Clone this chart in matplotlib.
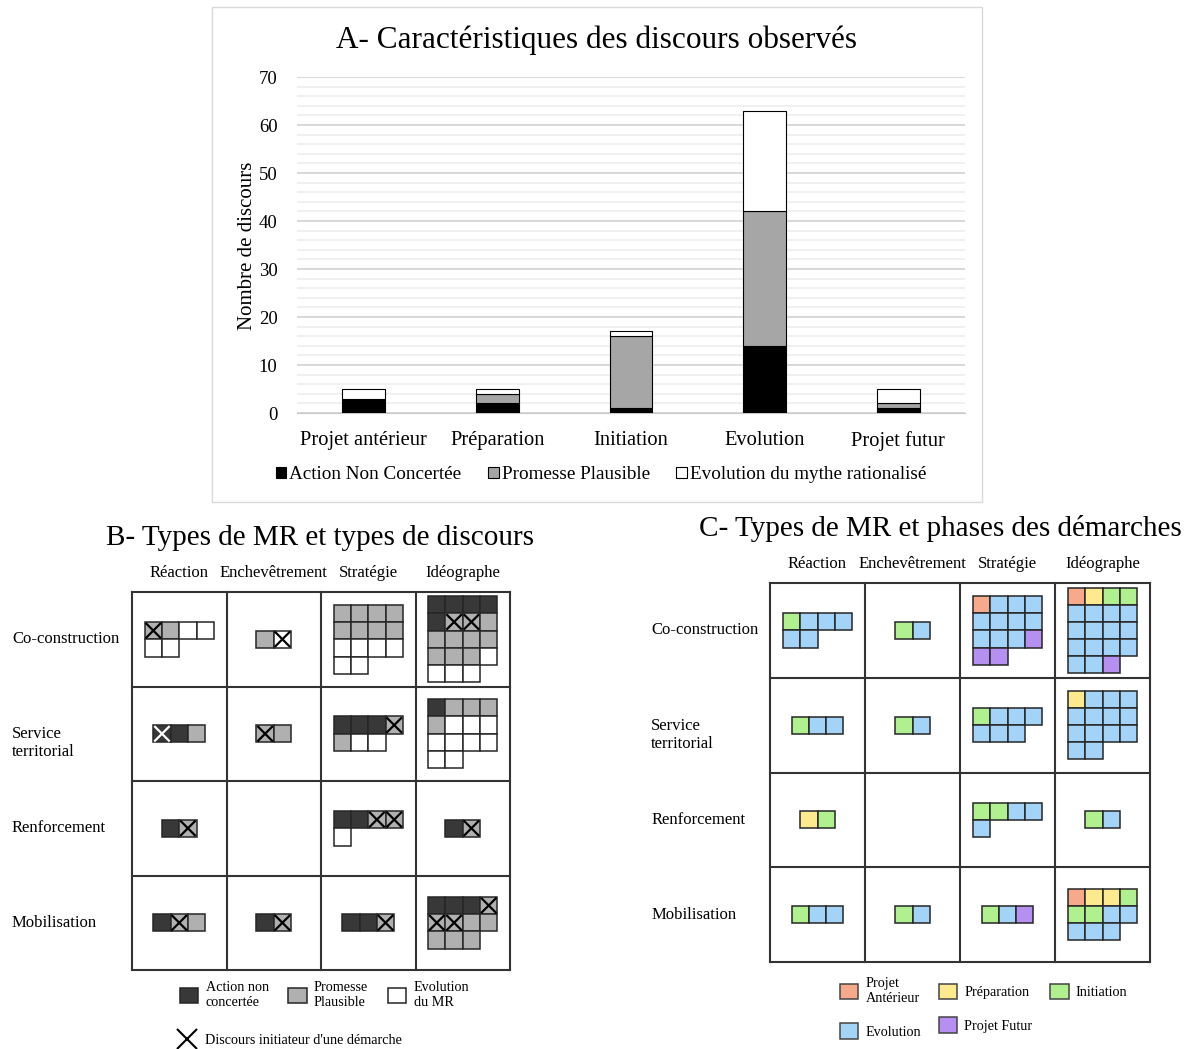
import numpy as np
import matplotlib.pyplot as plt
from matplotlib.patches import Rectangle, Patch
from matplotlib.lines import Line2D

plt.rcParams['font.family'] = ['Liberation Serif', 'DejaVu Serif']

# ---- data, panel A
phases = ["Projet antérieur", "Préparation", "Initiation", "Evolution", "Projet futur"]
action_nc = [3, 2, 1, 14, 1]
promesse = [0, 2, 15, 28, 1]
evolution_mr = [2, 1, 1, 21, 3]

# ---- data, panels B and C (one string per cell, squares filled row by row)
mr_types = ["Co-construction", "Service\nterritorial", "Renforcement", "Mobilisation"]
strategies = ["Réaction", "Enchevêtrement", "Stratégie", "Idéographe"]

# D = action non concertée, G = promesse plausible, W = evolution du MR, x = initiateur
discours_coconstruction = ["Gx G W W W W", "G Wx", "G G G G G G G G W W W W W W",
                           "D D D D D Gx Gx G G G G G G G G W W W W"]
discours_service = ["Dx D G", "Gx G", "D D D Gx G W W", "D G G G G W W W W W W W W W"]
discours_renforcement = ["D Gx", "", "D D Gx Gx W", "D Gx"]
discours_mobilisation = ["D Gx G", "D Gx", "D D Gx", "D D D Gx Gx Gx G G G G G"]

# A = projet antérieur, P = préparation, I = initiation, E = evolution, F = projet futur
phases_coconstruction = ["I E E E E E", "I E", "A E E E E E E E E E E F F F",
                         "A P I I E E E E E E E E E E E E E E F"]
phases_service = ["I E E", "I E", "I E E E E E E", "P E E E E E E E E E E E E E"]
phases_renforcement = ["P I", "", "I I E E E", "I E"]
phases_mobilisation = ["I E E", "I E", "I E F", "A P P I I I E E E E E"]

W, H = 1190, 1049
fig = plt.figure(figsize=(11.9, 10.49), dpi=100)


def box(l, t, r, b):
    return [l / W, 1 - b / H, (r - l) / W, (b - t) / H]


# ================= Panel A
fig.add_artist(Rectangle((212 / W, 1 - 502 / H), 770 / W, 495 / H, transform=fig.transFigure,
                         fill=False, edgecolor='#d9d9d9', lw=1))
ax = fig.add_axes(box(297, 77, 965, 413))
x = np.arange(len(phases))
bw = 0.32
ax.bar(x, action_nc, bw, color='black', edgecolor='black', lw=0.8, zorder=3,
       label='Action Non Concertée')
ax.bar(x, promesse, bw, bottom=action_nc, color='#a6a6a6', edgecolor='black', lw=0.8, zorder=3,
       label='Promesse Plausible')
ax.bar(x, evolution_mr, bw, bottom=np.add(action_nc, promesse), color='white', edgecolor='black',
       lw=0.8, zorder=3, label='Evolution du mythe rationalisé')
ax.set_xlim(-0.5, 4.5)
ax.set_ylim(0, 70)
ax.set_xticks(x)
ax.set_xticklabels(phases, fontsize=14.8)
ax.set_yticks(range(0, 71, 10))
ax.set_yticks(range(0, 71, 2), minor=True)
ax.grid(axis='y', which='major', color='#d6d6d6', lw=1.3)
ax.grid(axis='y', which='minor', color='#ececec', lw=1.1)
for s in ['top', 'right', 'left']:
    ax.spines[s].set_visible(False)
ax.spines['bottom'].set_color('#c8c8c8')
ax.tick_params(axis='y', which='both', length=0, labelsize=13.5, pad=14)
ax.tick_params(axis='x', length=0, pad=13)
ax.set_axisbelow(True)
fig.text(247 / W, 1 - 246 / H, "Nombre de discours", rotation=90, ha='center', va='center',
         fontsize=15)
fig.text(597 / W, 1 - 40 / H, "A- Caractéristiques des discours observés", ha='center',
         va='center', fontsize=22.5)
fig.legend(*ax.get_legend_handles_labels(), loc='center', bbox_to_anchor=(601 / W, 1 - 475 / H),
           ncol=3, frameon=False, fontsize=13.8, handlelength=0.55, handleheight=0.55,
           handletextpad=0.15, columnspacing=1.4, borderpad=0, borderaxespad=0)


# ================= Panels B and C
def draw_panel(ax, cells, colors, s, label_x):
    for r, row in enumerate(cells):
        for c, cell in enumerate(row):
            codes = cell.split()
            n = len(codes)
            if n == 0:
                continue
            ncol = min(n, 4)
            nrow = (n + 3) // 4
            x0 = c + 0.5 - ncol * s / 2
            y0 = r + 0.5 - nrow * s / 2
            for k, code in enumerate(codes):
                xi = x0 + (k % 4) * s
                yi = y0 + (k // 4) * s
                ax.add_patch(Rectangle((xi, yi), s, s, facecolor=colors[code[0]],
                                       edgecolor='#262626', lw=1.1))
                if code.endswith('x'):
                    col = 'white' if code[0] == 'D' else 'black'
                    d = 0.1 * s
                    ax.plot([xi + d, xi + s - d], [yi + d, yi + s - d], color=col, lw=1.6)
                    ax.plot([xi + d, xi + s - d], [yi + s - d, yi + d], color=col, lw=1.6)
    for v in range(5):
        ax.plot([v, v], [0, 4], color='#333333', lw=1.5, clip_on=False)
        ax.plot([0, 4], [v, v], color='#333333', lw=1.5, clip_on=False)
    ax.set_xlim(0, 4)
    ax.set_ylim(4, 0)
    ax.axis('off')
    for c, name in enumerate(strategies):
        ax.text(c + 0.5, -0.2, name, ha='center', va='center', fontsize=12)
    for r, name in enumerate(mr_types):
        off = 0.1 if '\n' in name else 0
        ax.text(label_x, r + 0.5 + off, name, ha='left', va='center', fontsize=12,
                linespacing=1.15)


gray_colors = {'D': '#383838', 'G': '#b0b0b0', 'W': 'white'}
phase_colors = {'A': '#f7a98c', 'P': '#fdea8f', 'I': '#b0f08e', 'E': '#a3d3f7', 'F': '#b590f0'}

axb = fig.add_axes(box(132, 592, 510, 970))
draw_panel(axb, [discours_coconstruction, discours_service, discours_renforcement,
                 discours_mobilisation], gray_colors, 0.183, -1.27)
fig.text(320 / W, 1 - 538 / H, "B- Types de MR et types de discours", ha='center', va='center',
         fontsize=21)

axc = fig.add_axes(box(770, 583, 1150, 962))
draw_panel(axc, [phases_coconstruction, phases_service, phases_renforcement,
                 phases_mobilisation], phase_colors, 0.181, -1.25)
fig.text(940 / W, 1 - 528 / H, "C- Types de MR et phases des démarches", ha='center',
         va='center', fontsize=21)

# ---- legends B
hb = [Patch(facecolor=gray_colors[k], edgecolor='#262626', lw=1.1) for k in 'DGW']
fig.legend(hb, ["Action non\nconcertée", "Promesse\nPlausible", "Evolution\ndu MR"],
           loc='center left', bbox_to_anchor=(180 / W, 1 - 995 / H), ncol=3, frameon=False,
           fontsize=10.2, handlelength=1.3, handleheight=1.3, handletextpad=0.5,
           columnspacing=1.4, borderpad=0, borderaxespad=0)
fig.legend([Line2D([], [], marker='x', color='black', ls='none', markersize=14, mew=1.5)],
           ["Discours initiateur d'une démarche"], loc='center left',
           bbox_to_anchor=(178 / W, 1 - 1040 / H), frameon=False, fontsize=10.2,
           handlelength=1.3, handletextpad=0.6, borderpad=0, borderaxespad=0)

# ---- legend C
order = ['A', 'E', 'P', 'F', 'I']
names = {'A': "Projet\nAntérieur", 'P': "Préparation", 'I': "Initiation", 'E': "Evolution",
         'F': "Projet Futur"}
hc = [Patch(facecolor=phase_colors[k], edgecolor='#444444', lw=1.1) for k in order]
fig.legend(hc, [names[k] for k in order], loc='upper left', bbox_to_anchor=(840 / W, 1 - 977 / H),
           ncol=3, frameon=False, fontsize=10.2, handlelength=1.3, handleheight=1.3,
           handletextpad=0.5, columnspacing=1.25, labelspacing=1.3, borderpad=0,
           borderaxespad=0)

fig.savefig("out.png", dpi=100)
